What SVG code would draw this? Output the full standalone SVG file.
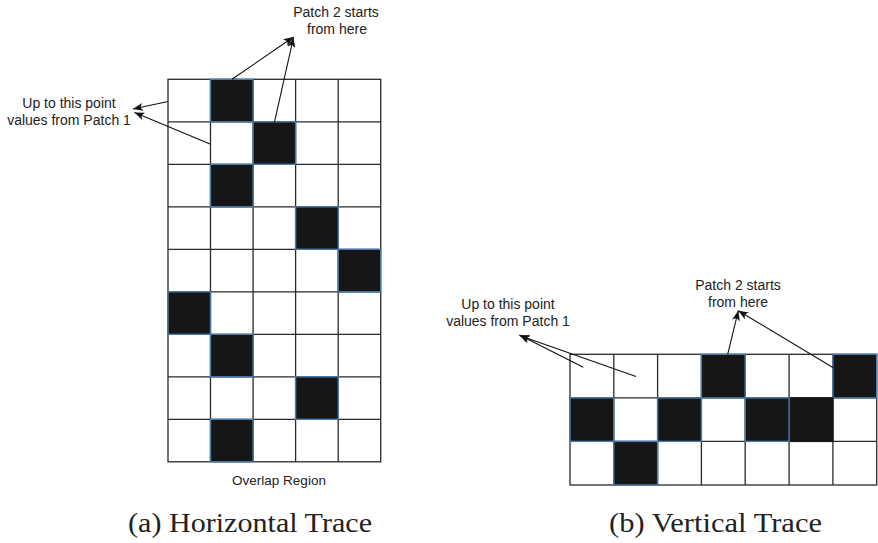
<svg xmlns="http://www.w3.org/2000/svg" width="878" height="543" viewBox="0 0 878 543">
<style>
.bg{fill:#ffffff}
.frame{fill:#ffffff;stroke:#2a2a2a;stroke-width:1.3}
.gl{stroke:#2a2a2a;stroke-width:1.3;fill:none}
.blk{fill:#161616;stroke:#4a7cab;stroke-width:1.4}
.blk2{fill:#161616;stroke:#161616;stroke-width:1.4}
.lbl{font-family:"Liberation Sans",Arial,sans-serif;font-size:14px;fill:#222;text-anchor:middle}
.ov{font-family:"Liberation Sans",Arial,sans-serif;font-size:13.5px;fill:#222;text-anchor:middle}
.cap{font-family:"Liberation Serif","Times New Roman",serif;font-size:27px;fill:#222}
.con{stroke:#111;stroke-width:1.1;fill:none;marker-end:url(#ah)}
</style>
<defs>
<marker id="ah" markerUnits="userSpaceOnUse" markerWidth="11" markerHeight="8" refX="10" refY="4" orient="auto">
<path d="M0,0 L10,4 L0,8 L2.5,4 z" fill="#111"/>
</marker>
</defs>
<rect class="bg" x="0" y="0" width="878" height="543"/>

<g id="grid-a">
<rect class="frame" x="168" y="79.3" width="212.7" height="382.5"/>
<path class="gl" d="M210.5,79.3V461.8M253.1,79.3V461.8M295.6,79.3V461.8M338.2,79.3V461.8M168,121.8H380.7M168,164.3H380.7M168,206.8H380.7M168,249.3H380.7M168,291.8H380.7M168,334.3H380.7M168,376.8H380.7M168,419.3H380.7"/>
<rect class="blk" x="210.5" y="79.3" width="42.6" height="42.5"/>
<rect class="blk" x="253.1" y="121.8" width="42.5" height="42.5"/>
<rect class="blk" x="210.5" y="164.3" width="42.6" height="42.5"/>
<rect class="blk" x="295.6" y="206.8" width="42.6" height="42.5"/>
<rect class="blk" x="338.2" y="249.3" width="42.5" height="42.5"/>
<rect class="blk" x="168" y="291.8" width="42.5" height="42.5"/>
<rect class="blk" x="210.5" y="334.3" width="42.6" height="42.5"/>
<rect class="blk" x="295.6" y="376.8" width="42.6" height="42.5"/>
<rect class="blk" x="210.5" y="419.3" width="42.6" height="42.5"/>
</g>

<g id="grid-b">
<rect class="frame" x="570" y="354.3" width="306.7" height="130.7"/>
<path class="gl" d="M613.8,354.3V485M657.6,354.3V485M701.4,354.3V485M745.2,354.3V485M789.1,354.3V485M832.9,354.3V485M570,397.9H876.7M570,441.4H876.7"/>
<rect class="blk" x="701.4" y="354.3" width="43.8" height="43.6"/>
<rect class="blk" x="832.9" y="354.3" width="43.8" height="43.6"/>
<rect class="blk" x="570" y="397.9" width="43.8" height="43.5"/>
<rect class="blk" x="657.6" y="397.9" width="43.8" height="43.5"/>
<rect class="blk2" x="789.1" y="397.9" width="43.8" height="43.5"/>
<rect class="blk" x="745.2" y="397.9" width="43.9" height="43.5"/>
<rect class="blk" x="613.8" y="441.4" width="43.8" height="43.6"/>
</g>

<g id="connectors">
<line class="con" x1="168" y1="101.5" x2="133" y2="109"/>
<line class="con" x1="210" y1="144" x2="134.5" y2="112.5"/>
<line class="con" x1="232" y1="79.3" x2="293.5" y2="37"/>
<line class="con" x1="274.5" y1="121.8" x2="293.5" y2="37.5"/>
<line class="con" x1="583.3" y1="367.3" x2="519.5" y2="335"/>
<line class="con" x1="636" y1="376.5" x2="519.5" y2="335.5"/>
<line class="con" x1="727.7" y1="354.3" x2="738.3" y2="310.7"/>
<line class="con" x1="833.3" y1="367.7" x2="738.3" y2="310.7"/>
</g>

<g id="label-a-patch1">
<text class="lbl" x="69" y="108">Up to this point</text>
<text class="lbl" x="69" y="125">values from Patch 1</text>
</g>
<g id="label-a-patch2">
<text class="lbl" x="336" y="17">Patch 2 starts</text>
<text class="lbl" x="337" y="34">from here</text>
</g>
<g id="label-overlap">
<text class="ov" x="279" y="485">Overlap Region</text>
</g>
<g id="label-b-patch1">
<text class="lbl" x="508" y="309">Up to this point</text>
<text class="lbl" x="508" y="326">values from Patch 1</text>
</g>
<g id="label-b-patch2">
<text class="lbl" x="738" y="290">Patch 2 starts</text>
<text class="lbl" x="738" y="307">from here</text>
</g>

<g id="captions">
<text class="cap" x="128" y="532" textLength="244" lengthAdjust="spacingAndGlyphs">(a) Horizontal Trace</text>
<text class="cap" x="609" y="532" textLength="213" lengthAdjust="spacingAndGlyphs">(b) Vertical Trace</text>
</g>
</svg>
